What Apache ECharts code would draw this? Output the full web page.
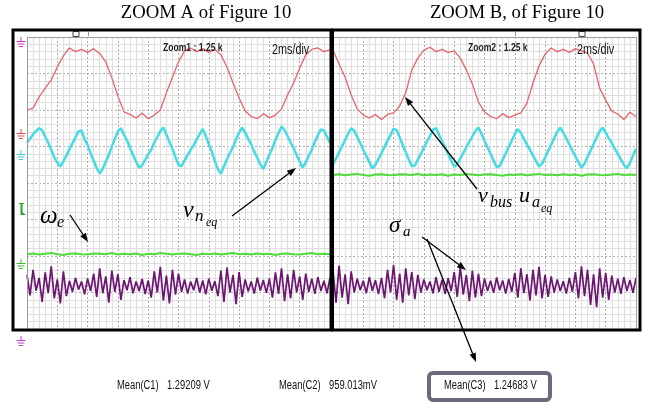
<!DOCTYPE html>
<html>
<head>
<meta charset="utf-8">
<script src="https://cdn.jsdelivr.net/npm/echarts@6/dist/echarts.min.js"></script>
<style>
  html, body { margin: 0; padding: 0; background: #fff; }
  #main { width: 652px; height: 410px; }
</style>
</head>
<body>
<div id="main"></div>
<script>
// time axis in ms (2 ms/div), vertical axis in screen divisions
var slowStep = 0.4;   // red + green samples
var fastStep = 0.2;   // cyan + purple samples

var redA = [6.00,6.05,6.36,6.60,6.82,7.18,7.48,7.70,7.60,7.66,7.58,7.68,7.55,7.32,6.88,6.38,5.95,5.88,5.78,5.92,
  5.76,5.86,6.00,6.47,6.90,7.32,7.62,7.70,7.60,7.68,7.58,7.66,7.51,7.18,6.74,6.33,5.97,5.82,5.76,5.90,
  5.79,5.86,6.03,6.41,6.74,7.15,7.51,7.66,7.70,7.60,7.65];
var redB = [7.64,7.26,6.90,6.41,6.03,5.86,5.78,5.88,5.74,5.88,5.92,6.11,6.47,7.10,7.42,7.64,7.72,7.60,7.66,7.58,
  7.62,7.42,7.10,6.71,6.22,5.95,5.82,5.76,5.90,5.79,5.86,5.92,6.19,6.74,7.21,7.53,7.70,7.60,7.66,7.58,
  7.68,7.62,7.56,7.26,6.60,6.27,5.97,5.89,5.74,5.94,5.82];

var cyanA = [5.10,5.22,5.33,5.42,5.50,5.45,5.26,5.11,4.91,4.70,4.56,4.45,4.59,4.75,4.92,5.09,5.25,5.42,5.44,5.20,
  5.04,4.81,4.61,4.41,4.26,4.39,4.59,4.77,5.00,5.21,5.42,5.50,5.32,5.17,4.96,4.77,4.59,4.42,4.48,4.63,
  4.79,4.91,5.11,5.26,5.42,5.52,5.33,5.12,4.94,4.71,4.50,4.46,4.62,4.76,4.91,5.03,5.20,5.34,5.48,5.29,
  5.06,4.86,4.60,4.38,4.25,4.46,4.65,4.83,4.99,5.20,5.38,5.52,5.38,5.21,5.06,4.86,4.69,4.51,4.38,4.58,
  4.78,4.95,5.18,5.37,5.55,5.45,5.28,5.11,4.96,4.76,4.59,4.42,4.57,4.75,4.91,5.13,5.31,5.47,5.44,5.27,5.10];
var cyanB = [4.50,4.67,4.84,5.01,5.18,5.35,5.50,5.43,5.26,5.09,4.91,4.74,4.57,4.40,4.50,4.66,4.82,4.99,5.16,5.32,
  5.49,5.45,5.25,5.05,4.85,4.65,4.46,4.48,4.64,4.80,4.97,5.13,5.29,5.46,5.50,5.32,5.14,4.97,4.79,4.62,
  4.44,4.52,4.67,4.82,4.98,5.13,5.28,5.43,5.52,5.35,5.16,4.98,4.80,4.62,4.44,4.46,4.64,4.81,4.99,5.16,
  5.34,5.48,5.37,5.21,5.06,4.91,4.75,4.60,4.45,4.53,4.70,4.88,5.05,5.23,5.40,5.52,5.38,5.22,5.06,4.89,
  4.73,4.57,4.42,4.53,4.71,4.89,5.07,5.25,5.42,5.52,5.38,5.23,5.09,4.94,4.80,4.65,4.50,4.40,4.55,4.75,4.94];

var greenA = [2.05,2.07,2.04,2.06,2.08,2.05,2.03,2.06,2.07,2.05,2.04,2.07,2.06,2.05,2.08,2.04,2.06,2.05,2.07,2.03,
  2.06,2.05,2.08,2.06,2.04,2.06,2.07,2.05,2.03,2.06,2.05,2.07,2.04,2.06,2.08,2.05,2.06,2.04,2.07,2.05,
  2.06,2.03,2.06,2.07,2.05,2.04,2.06,2.08,2.05,2.06,2.05];
var greenB = [4.22,4.24,4.21,4.23,4.25,4.22,4.20,4.23,4.24,4.22,4.21,4.24,4.23,4.22,4.25,4.21,4.23,4.22,4.24,4.20,
  4.23,4.22,4.25,4.23,4.21,4.23,4.24,4.22,4.20,4.23,4.22,4.24,4.21,4.23,4.25,4.22,4.23,4.21,4.24,4.22,
  4.23,4.20,4.23,4.24,4.22,4.21,4.23,4.25,4.22,4.23,4.22];

var purpleA = [1.48,0.92,1.62,1.05,1.40,0.74,1.55,0.98,1.72,0.84,1.36,0.70,1.58,0.90,
  1.32,1.02,1.40,1.08,1.30,0.95,1.38,1.04,
  1.52,0.88,1.66,0.98,1.44,0.72,1.60,1.02,1.50,0.80,
  1.34,1.06,1.42,0.98,1.30,1.04,1.37,0.96,1.33,
  0.86,1.58,1.00,1.70,0.78,1.46,0.70,1.62,0.94,1.52,
  1.02,1.36,0.97,1.30,1.06,1.40,1.00,1.33,0.95,1.38,1.05,1.31,
  0.90,1.60,0.74,1.68,1.00,1.48,0.68,1.56,0.88,
  1.36,1.03,1.30,0.97,1.41,1.05,1.34,0.99,1.38,
  0.86,1.55,0.96,1.66,0.76,1.50,0.84,1.62,1.00,1.44,0.80,1.52,
  1.02,1.38,0.96,1.42,1.04,1.32,0.98,1.40];
var purpleB = [1.60,0.72,1.74,0.86,1.50,0.68,1.58,
  1.00,1.38,1.06,1.32,0.98,1.42,1.04,1.34,0.96,1.40,
  0.84,1.62,1.00,1.76,0.80,1.52,0.72,1.66,0.92,1.56,0.82,1.48,
  1.00,1.36,1.06,1.30,0.98,1.42,1.02,1.35,0.96,1.39,1.04,
  1.56,0.88,1.70,0.94,1.48,0.76,1.60,0.86,1.52,0.90,
  1.38,1.04,1.32,0.99,1.41,1.06,1.33,0.97,1.37,1.02,
  1.54,0.86,1.66,0.98,1.50,0.78,1.62,0.92,1.70,0.84,1.48,0.88,1.44,
  1.00,1.36,1.04,1.31,0.97,1.40,1.02,
  1.56,0.84,1.72,0.90,1.62,0.66,1.50,0.60,1.66,0.86,1.54,0.80,1.46,
  1.00,1.38,0.96,1.42,1.04,1.34,0.99,1.40];

var titles = ['ZOOM A of Figure 10', 'ZOOM B, of Figure 10'];
var zoomLabels = ['Zoom1 : 1.25 k', 'Zoom2 : 1.25 k'];
var timeBase = '2ms/div';
var means = [['Mean(C1)', '1.29209 V'], ['Mean(C2)', '959.013mV'], ['Mean(C3)', '1.24683 V']];

function pairs(arr, step) {
  return arr.map(function (v, i) { return [+(i * step).toFixed(2), v]; });
}

var myChart = echarts.init(document.getElementById('main'), null, { renderer: 'canvas' });

function xAx(i) {
  return {
    gridIndex: i, type: 'value', min: 0, max: 20, interval: 2,
    axisLine: { show: false },
    axisTick: { show: false }, axisLabel: { show: false },
    splitLine: { show: true, lineStyle: { color: '#acacac', type: [2, 2], width: 1 } },
    minorTick: { show: false, splitNumber: 5 },
    minorSplitLine: { show: true, lineStyle: { color: '#dedede', width: 1 } }
  };
}
function yAx(i) {
  return {
    gridIndex: i, type: 'value', min: 0, max: 8, interval: 1,
    axisLine: { show: false },
    axisTick: { show: false }, axisLabel: { show: false },
    splitLine: { show: true, lineStyle: { color: '#acacac', type: [2, 2], width: 1 } },
    minorTick: { show: false, splitNumber: 5 },
    minorSplitLine: { show: true, lineStyle: { color: '#dedede', width: 1 } }
  };
}
function trace(i, data, step, color, w) {
  return {
    type: 'line', xAxisIndex: i, yAxisIndex: i, data: pairs(data, step),
    showSymbol: false, silent: true, animation: false,
    lineStyle: { color: color, width: w }
  };
}

function arrow(x1, y1, x2, y2) {
  var a = Math.atan2(y2 - y1, x2 - x1), L = 9, W = 3.3;
  var bx = x2 - L * Math.cos(a), by = y2 - L * Math.sin(a);
  var px = -Math.sin(a) * W, py = Math.cos(a) * W;
  return [
    { type: 'line', z: 30, shape: { x1: x1, y1: y1, x2: bx, y2: by }, style: { stroke: '#000', lineWidth: 1.3 } },
    { type: 'polygon', z: 30, shape: { points: [[x2, y2], [bx + px, by + py], [bx - px, by - py]] }, style: { fill: '#000' } }
  ];
}
function gnd(x, y, color) {
  var s = { stroke: color, lineWidth: 1 };
  return [
    { type: 'line', z: 30, shape: { x1: x, y1: y, x2: x, y2: y + 4 }, style: s },
    { type: 'line', z: 30, shape: { x1: x - 4.5, y1: y + 4.5, x2: x + 4.5, y2: y + 4.5 }, style: s },
    { type: 'line', z: 30, shape: { x1: x - 3.5, y1: y + 7, x2: x + 3.5, y2: y + 7 }, style: s },
    { type: 'line', z: 30, shape: { x1: x - 2, y1: y + 9.5, x2: x + 2, y2: y + 9.5 }, style: s }
  ];
}
function txt(x, y, text, size, opts) {
  opts = opts || {};
  return {
    type: 'text', z: 40, x: x, y: y, scaleX: opts.sx || 1,
    style: {
      text: text, fontSize: size, fontFamily: opts.family || 'Liberation Sans',
      fontStyle: opts.italic ? 'italic' : 'normal', fontWeight: opts.bold ? 'bold' : 'normal',
      fill: opts.color || '#000', align: opts.align || 'left', verticalAlign: 'middle'
    }
  };
}

var gfx = [];
// top grid border, left border, right border of panel B
gfx.push({ type: 'line', z: 5, shape: { x1: 27, y1: 37.5, x2: 636, y2: 37.5 }, style: { stroke: '#9c9c9c', lineWidth: 1 } });
gfx.push({ type: 'line', z: 5, shape: { x1: 27.5, y1: 37, x2: 27.5, y2: 329 }, style: { stroke: '#9c9c9c', lineWidth: 1 } });
gfx.push({ type: 'line', z: 5, shape: { x1: 636.5, y1: 37, x2: 636.5, y2: 329 }, style: { stroke: '#9c9c9c', lineWidth: 1 } });
// trigger / cursor markers above the grid
gfx.push({ type: 'rect', z: 30, shape: { x: 73, y: 31.5, width: 6, height: 5 }, style: { fill: '#fff', stroke: '#444', lineWidth: 1 } });
gfx.push({ type: 'line', z: 30, shape: { x1: 88.5, y1: 32, x2: 88.5, y2: 36 }, style: { stroke: '#999', lineWidth: 1 } });
gfx.push({ type: 'rect', z: 30, shape: { x: 579, y: 31.5, width: 6, height: 5 }, style: { fill: '#fff', stroke: '#444', lineWidth: 1 } });
gfx.push({ type: 'line', z: 30, shape: { x1: 515.5, y1: 32, x2: 515.5, y2: 36 }, style: { stroke: '#999', lineWidth: 1 } });
// black frames
gfx.push({ type: 'rect', z: 50, shape: { x: 13, y: 30, width: 318, height: 300 }, style: { fill: 'none', stroke: '#000', lineWidth: 3 } });
gfx.push({ type: 'rect', z: 50, shape: { x: 332.5, y: 30, width: 307.5, height: 300 }, style: { fill: 'none', stroke: '#000', lineWidth: 3 } });
// channel markers on the left
gfx = gfx.concat(gnd(21, 37, '#c23cc8'), gnd(21, 129, '#d84a4a'), gnd(21, 150, '#36c9d6'),
  gnd(21, 259, '#3dbb2e'), gnd(21, 336, '#c23cc8'));
gfx.push({ type: 'line', z: 30, shape: { x1: 21.5, y1: 203, x2: 21.5, y2: 215 }, style: { stroke: '#2aa52a', lineWidth: 2 } });
gfx.push({ type: 'line', z: 30, shape: { x1: 19, y1: 203.5, x2: 24, y2: 203.5 }, style: { stroke: '#2aa52a', lineWidth: 1 } });
gfx.push({ type: 'polygon', z: 30, shape: { points: [[21, 211], [26, 215], [21, 215]] }, style: { fill: '#2aa52a' } });

// titles and scope labels
gfx.push(txt(206, 13, titles[0], 18, { family: 'Liberation Serif', align: 'center', sx: 1.04 }));
gfx.push(txt(517, 13, titles[1], 18, { family: 'Liberation Serif', align: 'center', sx: 1.04 }));
gfx.push(txt(163, 47.5, zoomLabels[0], 11, { bold: true, sx: 0.78, color: '#222' }));
gfx.push(txt(468, 47.5, zoomLabels[1], 11, { bold: true, sx: 0.78, color: '#222' }));
gfx.push(txt(272, 50, timeBase, 15, { sx: 0.72, color: '#111' }));
gfx.push(txt(577, 50, timeBase, 15, { sx: 0.72, color: '#111' }));

// math annotations
var serif = 'Liberation Serif';
gfx.push(txt(40, 216, 'ω', 25, { family: serif, italic: true }));
gfx.push(txt(57, 223, 'e', 16, { family: serif, italic: true }));
gfx.push(txt(183, 211, 'v', 24, { family: serif, italic: true }));
gfx.push(txt(195, 217, 'n', 17, { family: serif, italic: true }));
gfx.push(txt(206, 223, 'eq', 12, { family: serif, italic: true }));
gfx.push(txt(478, 196, 'v', 22, { family: serif, italic: true }));
gfx.push(txt(490, 203, 'bus', 16, { family: serif, italic: true }));
gfx.push(txt(519, 196, 'u', 22, { family: serif, italic: true }));
gfx.push(txt(532, 203, 'a', 16, { family: serif, italic: true }));
gfx.push(txt(541, 209, 'eq', 12, { family: serif, italic: true }));
gfx.push(txt(389, 226, 'σ', 23, { family: serif, italic: true }));
gfx.push(txt(403, 232, 'a', 15, { family: serif, italic: true }));

gfx = gfx.concat(arrow(70, 215, 88, 242), arrow(232, 216, 296, 168), arrow(477, 189, 405, 97),
  arrow(422, 237, 466, 270), arrow(427, 239, 476, 362));

// measurement readouts
gfx.push({ type: 'rect', z: 30, shape: { x: 429, y: 373, width: 121, height: 27, r: 4 }, style: { fill: '#fff', stroke: '#6a6a7c', lineWidth: 4 } });
var mx = [[117, 167], [279, 329], [444, 494]];
means.forEach(function (m, i) {
  gfx.push(txt(mx[i][0], 386, m[0], 12, { sx: 0.78, color: '#111' }));
  gfx.push(txt(mx[i][1], 386, m[1], 12, { sx: 0.78, color: '#111' }));
});

var option = {
  backgroundColor: '#fff',
  animation: false,
  grid: [
    { left: 27, top: 37, width: 303, height: 292 },
    { left: 333, top: 37, width: 303, height: 292 }
  ],
  xAxis: [xAx(0), xAx(1)],
  yAxis: [yAx(0), yAx(1)],
  series: [
    trace(0, purpleA, fastStep, '#6c1672', 1.7),
    trace(0, greenA, slowStep, '#4fdc3a', 2),
    trace(0, cyanA, fastStep, '#45dbe3', 2.5),
    trace(0, redA, slowStep, '#e6636b', 1.3),
    trace(1, purpleB, fastStep, '#6c1672', 1.7),
    trace(1, greenB, slowStep, '#4fdc3a', 2),
    trace(1, cyanB, fastStep, '#45dbe3', 2.5),
    trace(1, redB, slowStep, '#e6636b', 1.3)
  ],
  graphic: gfx
};
myChart.setOption(option);
</script>
</body>
</html>
